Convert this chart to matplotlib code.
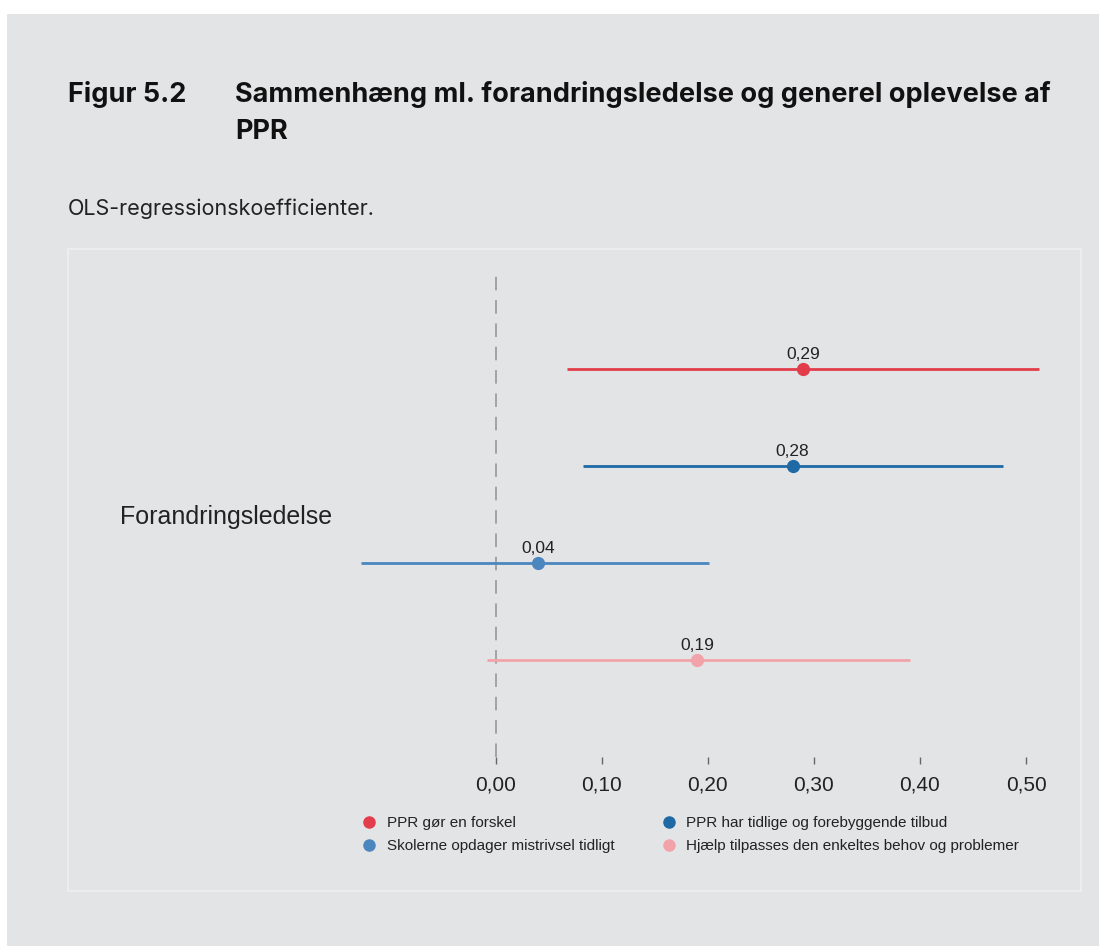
import matplotlib
matplotlib.use("Agg")
import matplotlib.pyplot as plt
from matplotlib.patches import Rectangle
from matplotlib.lines import Line2D

# Data
series = ["PPR gør en forskel",
          "PPR har tidlige og forebyggende tilbud",
          "Skolerne opdager mistrivsel tidligt",
          "Hjælp tilpasses den enkeltes behov og problemer"]
coef = [0.29, 0.28, 0.04, 0.19]
ci_low = [0.067, 0.082, -0.127, -0.008]
ci_high = [0.512, 0.478, 0.201, 0.391]
value_labels = ["0,29", "0,28", "0,04", "0,19"]
colors = ["#e23d4b", "#1f6aa5", "#4b86bf", "#f2a3aa"]
category = "Forandringsledelse"
xticks = [0.0, 0.1, 0.2, 0.3, 0.4, 0.5]
xticklabels = ["0,00", "0,10", "0,20", "0,30", "0,40", "0,50"]

W, H = 1099, 946
fig = plt.figure(figsize=(W / 100, H / 100), dpi=100)
fig.patch.set_facecolor("white")
bg = "#e3e4e6"

# gray background area
fig.patches.append(Rectangle((7 / W, 0), 1, 1 - 14 / H, transform=fig.transFigure,
                             facecolor=bg, edgecolor="none", zorder=-10))
# inner panel border
fig.patches.append(Rectangle((68 / W, 1 - 891 / H), (1081 - 68) / W, (891 - 249) / H,
                             transform=fig.transFigure, facecolor="none",
                             edgecolor="#efeff0", lw=1.2, zorder=-5))

# Titles
fig.text(68 / W, 1 - 94 / H, "Figur 5.2", fontsize=19.5, fontweight="bold",
         family="Inter", va="center", ha="left", color="#111111")
fig.text(235 / W, 1 - 94 / H, "Sammenhæng ml. forandringsledelse og generel oplevelse af",
         fontsize=19.5, fontweight="bold", family="Inter", va="center", ha="left", color="#111111")
fig.text(235 / W, 1 - 132 / H, "PPR", fontsize=19.5, fontweight="bold",
         family="Inter", va="center", ha="left", color="#111111")
fig.text(68 / W, 1 - 209 / H, "OLS-regressionskoefficienter.", fontsize=15.5,
         family="Inter", va="center", ha="left", color="#222222")

# Axes
ax = fig.add_axes([345 / W, 1 - 757 / H, (1060 - 345) / W, (757 - 270) / H])
ax.set_facecolor(bg)
ax.patch.set_alpha(0)
for s in ax.spines.values():
    s.set_visible(False)

ys = [4, 3, 2, 1]
ax.axvline(0, color="#a3a3a3", ls=(0, (7, 5)), lw=1.4, zorder=1)
for y, c, lo, hi, lab, col in zip(ys, coef, ci_low, ci_high, value_labels, colors):
    ax.plot([lo, hi], [y, y], color=col, lw=2.0, solid_capstyle="butt", zorder=2)
    ax.plot(c, y, "o", color=col, ms=8.5, zorder=3)
    ax.annotate(lab, (c, y), xytext=(0, 5), textcoords="offset points",
                ha="center", va="bottom", fontsize=12.5, family="Liberation Sans",
                color="#222222")

ax.set_xlim(-0.142, 0.532)
ax.set_ylim(0, 5.02)
ax.set_xticks(xticks)
ax.set_xticklabels(xticklabels, family="Liberation Sans", fontsize=15, color="#222222")
ax.set_yticks([2.5])
ax.set_yticklabels([category], family="Liberation Sans", fontsize=18, color="#222222")
ax.tick_params(axis="y", length=0, pad=9)
ax.tick_params(axis="x", length=5, color="#666666", width=1, pad=8, direction="out")

# Legend
order = [0, 2, 1, 3]
handles = [Line2D([], [], marker="o", ls="none", color=colors[i], ms=8) for i in order]
labels = [series[i] for i in order]
leg = fig.legend(handles, labels, ncol=2, loc="upper left",
                 bbox_to_anchor=(360 / W, 1 - 816 / H), frameon=False,
                 prop={"family": "Liberation Sans", "size": 11},
                 handletextpad=0.55, columnspacing=2.95, labelspacing=0.58,
                 handlelength=1.2, borderaxespad=0, borderpad=0)
for t in leg.get_texts():
    t.set_color("#222222")

fig.savefig("out.png", dpi=100, facecolor=fig.get_facecolor())
